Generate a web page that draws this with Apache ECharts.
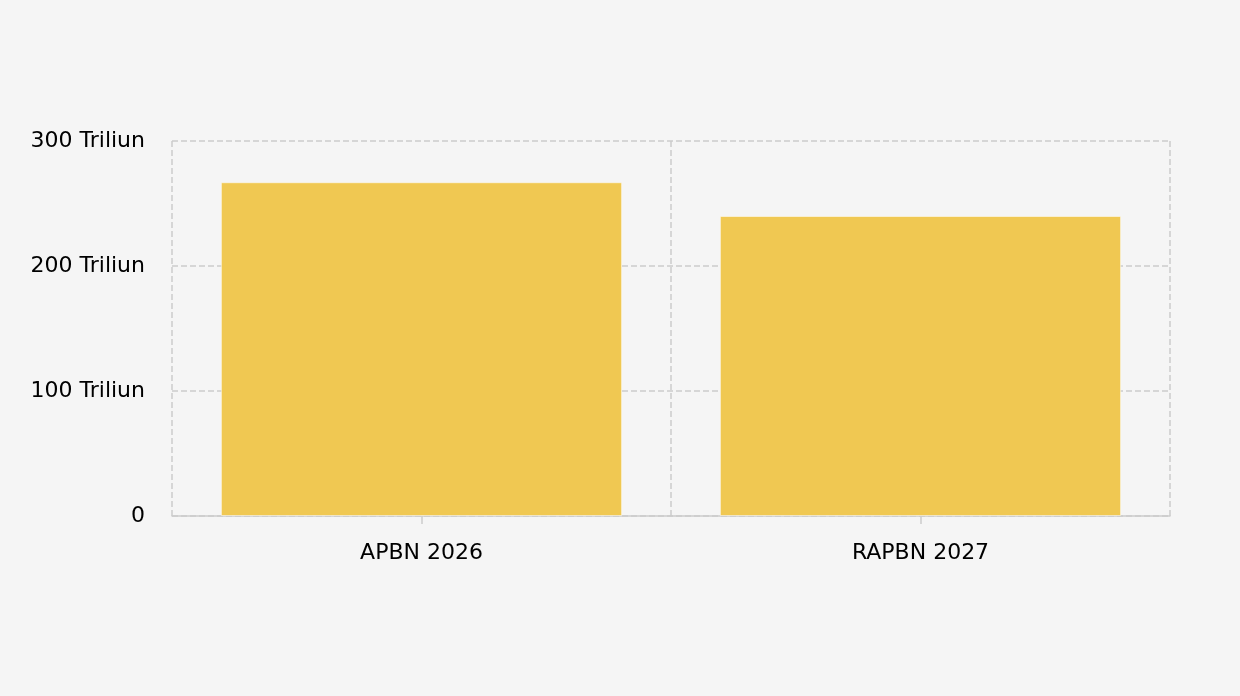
<!DOCTYPE html>
<html>
<head>
<meta charset="utf-8">
<script src="https://cdn.jsdelivr.net/npm/echarts@6/dist/echarts.min.js"></script>
<style>html,body{margin:0;padding:0;background:#f5f5f5;}#c{width:1240px;height:696px;}</style>
</head>
<body>
<div id="c"></div>
<script>
const categories = ['APBN 2026', 'RAPBN 2027'];
const values = [267, 240];
const yTicks = [0, 100, 200, 300];

const FONT = '"DejaVu Sans", Verdana, sans-serif';
const chart = echarts.init(document.getElementById('c'));
chart.setOption({
  backgroundColor: '#f5f5f5',
  textStyle: { fontFamily: FONT },
  grid: { left: 172, right: 70, top: 141, bottom: 180 },
  xAxis: {
    type: 'category',
    data: categories,
    axisLine: { lineStyle: { color: '#cccccc', width: 1.5 } },
    axisTick: { show: true, alignWithLabel: true, length: 8, lineStyle: { color: '#cccccc', width: 1.5 } },
    axisLabel: { color: '#000', fontSize: 22, margin: 26, fontFamily: FONT },
    splitLine: { show: true, lineStyle: { type: 'dashed', color: '#cccccc', width: 1.5 } }
  },
  yAxis: {
    type: 'value',
    min: 0, max: 300, interval: 100,
    axisLine: { show: false },
    axisTick: { show: false },
    axisLabel: {
      color: '#000', fontSize: 22, margin: 27, fontFamily: FONT,
      formatter: v => (yTicks.includes(v) ? (v === 0 ? '0' : v + ' Triliun') : '')
    },
    splitLine: { show: true, lineStyle: { type: 'dashed', color: '#cccccc', width: 1.5 } }
  },
  series: [{
    type: 'bar',
    data: values,
    barWidth: '80.4%',
    itemStyle: { color: '#f0c852', borderColor: 'rgba(255,255,255,0.5)', borderWidth: 1 }
  }]
});
</script>
</body>
</html>
